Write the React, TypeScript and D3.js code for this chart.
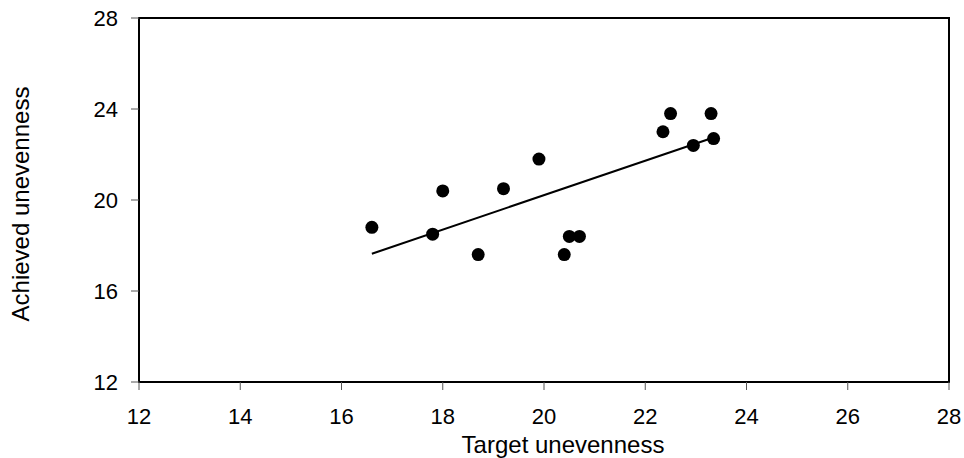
import React from 'react';
import * as d3 from 'd3';

// Target vs achieved unevenness
const targetValues = [16.6, 17.8, 18.0, 18.7, 19.2, 19.9, 20.4, 20.5, 20.7, 22.35, 22.5, 22.95, 23.3, 23.35];
const achievedValues = [18.8, 18.5, 20.4, 17.6, 20.5, 21.8, 17.6, 18.4, 18.4, 23.0, 23.8, 22.4, 23.8, 22.7];
const xTicks = [12, 14, 16, 18, 20, 22, 24, 26, 28];
const yTicks = [12, 16, 20, 24, 28];

const width = 964;
const height = 458;
const margin = { top: 18, right: 15, bottom: 76, left: 139 };
const font = '"Liberation Sans", Arial, sans-serif';

// least-squares fit for the trend line
const fitLine = (xs: number[], ys: number[]) => {
  const mx = d3.mean(xs) as number;
  const my = d3.mean(ys) as number;
  let sxy = 0;
  let sxx = 0;
  xs.forEach((x, i) => {
    sxy += (x - mx) * (ys[i] - my);
    sxx += (x - mx) * (x - mx);
  });
  const slope = sxy / sxx;
  return (x: number) => my + slope * (x - mx);
};

export default function App() {
  const x = d3.scaleLinear().domain([12, 28]).range([margin.left, width - margin.right]);
  const y = d3.scaleLinear().domain([12, 28]).range([height - margin.bottom, margin.top]);

  const points = targetValues.map((t, i) => ({ t, a: achievedValues[i] }));
  const predict = fitLine(targetValues, achievedValues);
  const [xMin, xMax] = d3.extent(targetValues) as [number, number];
  const trend = d3.line<number>().x(d => x(d)).y(d => y(predict(d)))([xMin, xMax]) || '';

  const x0 = x(12), x1 = x(28), y0 = y(12), y1 = y(28);

  return (
    <svg width={width} height={height} style={{ position: 'absolute', left: 0, top: 0, background: '#fff' }}
      fontFamily={font}>
      {/* plot frame */}
      <rect x={x0} y={y1} width={x1 - x0} height={y0 - y1} fill="none" stroke="#000" strokeWidth={2} />

      {/* x ticks */}
      {xTicks.map(t => (
        <g key={'x' + t}>
          <line x1={x(t)} x2={x(t)} y1={y0} y2={y0 + 8} stroke="#555" strokeWidth={1} />
          <text x={x(t)} y={424} textAnchor="middle" fontSize={22} fill="#000">{t}</text>
        </g>
      ))}

      {/* y ticks */}
      {yTicks.map(t => (
        <g key={'y' + t}>
          <line x1={x0 - 8} x2={x0} y1={y(t)} y2={y(t)} stroke="#555" strokeWidth={1} />
          <text x={x0 - 21} y={y(t)} dy="0.36em" textAnchor="end" fontSize={22} fill="#000">{t}</text>
        </g>
      ))}

      {/* trend line */}
      <path d={trend} fill="none" stroke="#000" strokeWidth={2} />

      {/* data points */}
      {points.map((p, i) => (
        <circle key={i} cx={x(p.t)} cy={y(p.a)} r={6.5} fill="#000" />
      ))}

      {/* axis titles */}
      <text x={563} y={453} textAnchor="middle" fontSize={24} fill="#000">Target unevenness</text>
      <text transform="translate(29,204) rotate(-90)" textAnchor="middle" fontSize={24} fill="#000">
        Achieved unevenness
      </text>
    </svg>
  );
}
